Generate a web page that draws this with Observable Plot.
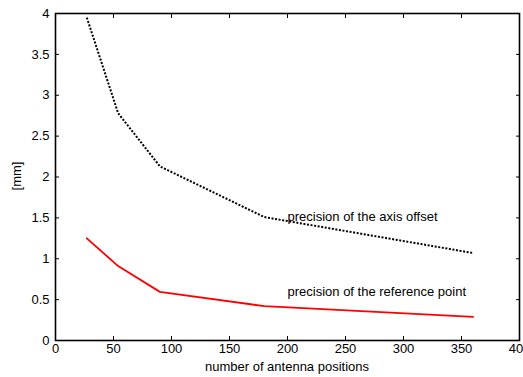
<!DOCTYPE html>
<html>
<head>
<meta charset="utf-8">
<script src="https://cdn.jsdelivr.net/npm/d3@7"></script>
<script src="https://cdn.jsdelivr.net/npm/@observablehq/plot@0.6"></script>
<style>
  html, body { margin: 0; padding: 0; background: #fff; overflow: hidden; }
  #chart svg { display: block; }
</style>
</head>
<body>
<div id="chart"></div>
<script>
const positions = [27, 54, 90, 180, 360];
const axisOffset = [3.95, 2.78, 2.13, 1.51, 1.07];
const referencePoint = [1.25, 0.91, 0.595, 0.42, 0.29];
const xTicks = [0, 50, 100, 150, 200, 250, 300, 350, 400];
const yTicks = [0, 0.5, 1, 1.5, 2, 2.5, 3, 3.5, 4];
const labelTexts = ["precision of the axis offset", "precision of the reference point"];
const labelX = [200, 200];
const labelY = [1.51, 0.6];

const offsetData = positions.map((x, i) => ({x, y: axisOffset[i]}));
const refData = positions.map((x, i) => ({x, y: referencePoint[i]}));
const labels = labelTexts.map((t, i) => ({t, x: labelX[i], y: labelY[i]}));

const chart = Plot.plot({
  width: 523,
  height: 377,
  marginLeft: 55,
  marginTop: 13,
  marginRight: 4,
  marginBottom: 37,
  style: {fontFamily: "'Liberation Sans', Arial, sans-serif", fontSize: "13px", color: "#000", background: "#fff"},
  x: {domain: [0, 400]},
  y: {domain: [0, 4]},
  marks: [
    Plot.axisX({anchor: "bottom", ticks: xTicks, tickSize: -4, tickPadding: 7, tickFormat: d => String(d), label: null, fontSize: 13, stroke: "#000", strokeWidth: 1}),
    Plot.axisX({anchor: "top", ticks: xTicks, tickSize: -4, tickFormat: () => "", label: null, stroke: "#000"}),
    Plot.axisY({anchor: "left", ticks: yTicks, tickSize: -4, tickPadding: 10, tickFormat: d => String(d), label: null, fontSize: 13, stroke: "#000"}),
    Plot.axisY({anchor: "right", ticks: yTicks, tickSize: -4, tickFormat: () => "", label: null, stroke: "#000"}),
    Plot.frame({stroke: "#000", strokeWidth: 1.6}),
    Plot.line(offsetData, {x: "x", y: "y", stroke: "#000", strokeWidth: 2, strokeDasharray: "2,1.6", strokeLinecap: "butt"}),
    Plot.line(refData, {x: "x", y: "y", stroke: "#ff0000", strokeWidth: 1.8}),
    Plot.text(labels, {x: "x", y: "y", text: "t", textAnchor: "start", fontSize: 13, fill: "#000"})
  ]
});

const svg = d3.select(chart);
svg.append("text")
  .attr("x", 287).attr("y", 371)
  .attr("text-anchor", "middle")
  .attr("font-size", 13)
  .attr("fill", "#000")
  .text("number of antenna positions");
svg.append("text")
  .attr("transform", "translate(21,176) rotate(-90)")
  .attr("text-anchor", "middle")
  .attr("font-size", 13)
  .attr("fill", "#000")
  .text("[mm]");

document.getElementById("chart").appendChild(chart);
</script>
</body>
</html>
